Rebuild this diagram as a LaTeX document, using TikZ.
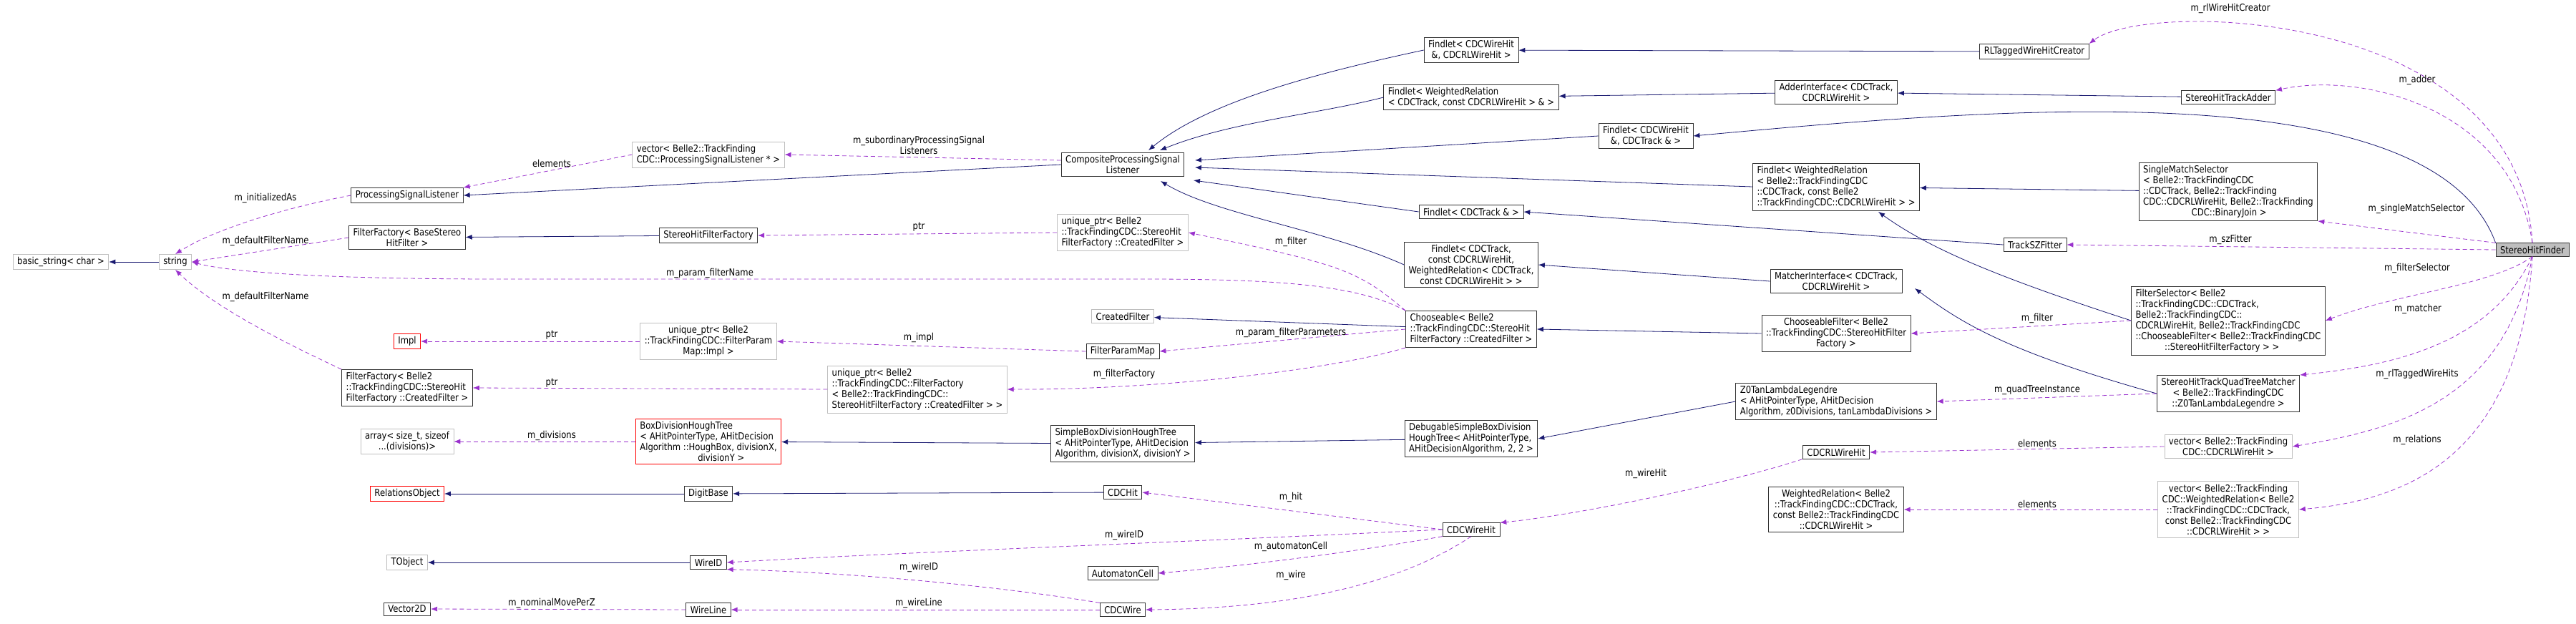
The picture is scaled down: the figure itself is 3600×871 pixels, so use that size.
\documentclass[tikz,border=0pt]{standalone}
\usepackage{fontspec}
\setmainfont{DejaVu Sans}[FakeStretch=0.86]
\usepackage{tikz}
\usetikzlibrary{positioning,arrows.meta}
\definecolor{navy}{HTML}{191970}
\definecolor{member}{HTML}{9A32CD}
\definecolor{extgray}{HTML}{BFBFBF}

\begin{document}
\begin{tikzpicture}[x=1pt, y=-1pt,
        every node/.style={font=\fontsize{13.5}{15}\selectfont, inner xsep=6pt, inner ysep=4pt},
        cls/.style={draw=black!80, thick, fill=white, align=center},
        extcls/.style={draw=extgray, thick, fill=white, align=center},
        redcls/.style={draw=red, thick, fill=white, align=center},
        focus/.style={draw=black!80, thick, fill=black!25, align=center},
        lbl/.style={inner sep=1pt, align=center},
        inh/.style={draw=navy, thick, -{Latex[length=9pt,width=7pt]}},
        use/.style={draw=member, thick, dash pattern=on 6pt off 4pt, -{Latex[length=9pt,width=7pt]}},
]
        \useasboundingbox (0,0) rectangle (3600,871);

        % left column
        \node[extcls] (bstr) at (85,366) {basic\_string< char >};
        \node[extcls] (str) at (245,366) {string};
        \node[cls] (psl) at (569,273) {ProcessingSignalListener};
        \node[cls] (ffbase) at (569,332) {FilterFactory< BaseStereo\\HitFilter >};
        \node[redcls] (impl) at (569,477) {Impl};
        \node[cls, align=left] (ffcreated) at (569,542) {FilterFactory< Belle2\\::TrackFindingCDC::StereoHit\\FilterFactory ::CreatedFilter >};
        \node[extcls] (arr) at (569,617) {array< size\_t, sizeof\\...(divisions)>};
        \node[redcls] (relobj) at (569,690) {RelationsObject};
        \node[extcls] (tobj) at (569,786) {TObject};
        \node[cls] (vecd) at (569,851) {Vector2D};

        % second column
        \node[extcls, align=left] (vecpsl) at (990,216) {vector< Belle2::TrackFinding\\CDC::ProcessingSignalListener * >};
        \node[cls] (shff) at (990,329) {StereoHitFilterFactory};
        \node[extcls] (upimpl) at (990,477) {unique\_ptr< Belle2\\::TrackFindingCDC::FilterParam\\Map::Impl >};
        \node[extcls, align=left] (upff) at (1282,544) {unique\_ptr< Belle2\\::TrackFindingCDC::FilterFactory\\< Belle2::TrackFindingCDC::\\StereoHitFilterFactory ::CreatedFilter > >};
        \node[redcls, align=left] (boxtree) at (990,617) {BoxDivisionHoughTree\\< AHitPointerType, AHitDecision\\Algorithm ::HoughBox, divisionX,\\\hspace*{6em}divisionY >};
        \node[cls] (digit) at (990,690) {DigitBase};
        \node[cls] (wireid) at (990,786) {WireID};
        \node[cls] (wireline) at (990,852) {WireLine};

        % third column
        \node[cls] (cpsl) at (1569,230) {CompositeProcessingSignal\\Listener};
        \node[extcls, align=left] (upcreated) at (1569,325) {unique\_ptr< Belle2\\::TrackFindingCDC::StereoHit\\FilterFactory ::CreatedFilter >};
        \node[extcls] (createdf) at (1569,442) {CreatedFilter};
        \node[cls] (fpmap) at (1569,491) {FilterParamMap};
        \node[cls, align=left] (simplebox) at (1569,620) {SimpleBoxDivisionHoughTree\\< AHitPointerType, AHitDecision\\Algorithm, divisionX, divisionY >};
        \node[cls] (cdchit) at (1569,688) {CDCHit};
        \node[cls] (autocell) at (1569,801) {AutomatonCell};
        \node[cls] (cdcwire) at (1569,852) {CDCWire};

        % fourth column
        \node[cls] (fwrl) at (2056,70) {Findlet< CDCWireHit\\\&, CDCRLWireHit >};
        \node[cls, align=left] (fwrel) at (2056,136) {Findlet< WeightedRelation\\< CDCTrack, const CDCRLWireHit > \& >};
        \node[cls] (fwtrk) at (2300,190) {Findlet< CDCWireHit\\\&, CDCTrack \& >};
        \node[cls] (ftrk) at (2056,296) {Findlet< CDCTrack \& >};
        \node[cls] (ftrkrel) at (2056,370) {Findlet< CDCTrack,\\const CDCRLWireHit,\\WeightedRelation< CDCTrack,\\const CDCRLWireHit > >};
        \node[cls, align=left] (choose) at (2056,460) {Chooseable< Belle2\\::TrackFindingCDC::StereoHit\\FilterFactory ::CreatedFilter >};
        \node[cls, align=left] (debugbox) at (2056,613) {DebugableSimpleBoxDivision\\HoughTree< AHitPointerType,\\AHitDecisionAlgorithm, 2, 2 >};
        \node[cls] (cdcwirehit) at (2056,740) {CDCWireHit};

        % fifth column
        \node[cls] (rlcreator) at (2843,72) {RLTaggedWireHitCreator};
        \node[cls] (adderif) at (2566,129) {AdderInterface< CDCTrack,\\CDCRLWireHit >};
        \node[cls, align=left] (fbelle) at (2566,261) {Findlet< WeightedRelation\\< Belle2::TrackFindingCDC\\::CDCTrack, const Belle2\\::TrackFindingCDC::CDCRLWireHit > >};
        \node[cls] (szfit) at (2844,342) {TrackSZFitter};
        \node[cls] (matcherif) at (2566,393) {MatcherInterface< CDCTrack,\\CDCRLWireHit >};
        \node[cls] (choosef) at (2566,466) {ChooseableFilter< Belle2\\::TrackFindingCDC::StereoHitFilter\\Factory >};
        \node[cls, align=left] (z0leg) at (2566,561) {Z0TanLambdaLegendre\\< AHitPointerType, AHitDecision\\Algorithm, z0Divisions, tanLambdaDivisions >};
        \node[cls] (rlwirehit) at (2566,632) {CDCRLWireHit};
        \node[cls] (wrel) at (2566,712) {WeightedRelation< Belle2\\::TrackFindingCDC::CDCTrack,\\const Belle2::TrackFindingCDC\\::CDCRLWireHit >};

        % sixth column
        \node[cls] (adder) at (3114,136) {StereoHitTrackAdder};
        \node[cls, align=left] (single) at (3114,268) {SingleMatchSelector\\< Belle2::TrackFindingCDC\\::CDCTrack, Belle2::TrackFinding\\CDC::CDCRLWireHit, Belle2::TrackFinding\\\hspace*{5em}CDC::BinaryJoin >};
        \node[cls, align=left] (fselector) at (3114,448) {FilterSelector< Belle2\\::TrackFindingCDC::CDCTrack,\\Belle2::TrackFindingCDC::\\CDCRLWireHit, Belle2::TrackFindingCDC\\::ChooseableFilter< Belle2::TrackFindingCDC\\\hspace*{3em}::StereoHitFilterFactory > >};
        \node[cls] (quadmatcher) at (3114,550) {StereoHitTrackQuadTreeMatcher\\< Belle2::TrackFindingCDC\\::Z0TanLambdaLegendre >};
        \node[extcls] (vecrl) at (3114,624) {vector< Belle2::TrackFinding\\CDC::CDCRLWireHit >};
        \node[extcls] (vecwrel) at (3114,712) {vector< Belle2::TrackFinding\\CDC::WeightedRelation< Belle2\\::TrackFindingCDC::CDCTrack,\\const Belle2::TrackFindingCDC\\::CDCRLWireHit > >};
        \node[focus] (finder) at (3539,349) {StereoHitFinder};

        % inheritance
        \draw[inh] (str) -- (bstr);
        \draw[inh] (cpsl.west) -- (psl.east);
        \draw[inh] (shff) -- (ffbase);
        \draw[inh] (fwrl.west) .. controls (1850,100) and (1690,140) .. (1605,210);
        \draw[inh] (fwrel.west) .. controls (1840,160) and (1720,170) .. (1621,210);
        \draw[inh] (fwtrk.west) -- (1670,224);
        \draw[inh] (fbelle.west) -- (1670,234);
        \draw[inh] (ftrk.west) -- (1668,252);
        \draw[inh] (ftrkrel.west) .. controls (1850,320) and (1700,300) .. (1622,253);
        \draw[inh] (choose) -- (createdf);
        \draw[inh] (simplebox) -- (boxtree);
        \draw[inh] (debugbox) -- (simplebox);
        \draw[inh] (cdchit) -- (digit);
        \draw[inh] (digit) -- (relobj);
        \draw[inh] (wireid) -- (tobj);
        \draw[inh] (rlcreator) -- (fwrl);
        \draw[inh] (adderif) -- (fwrel);
        \draw[inh] (adder) -- (adderif);
        \draw[inh] (szfit.west) -- (ftrk.east);
        \draw[inh] (matcherif.west) -- (ftrkrel.east);
        \draw[inh] (choosef.west) -- (choose.east);
        \draw[inh] (z0leg.west) -- (debugbox.east);
        \draw[inh] (single) -- (fbelle);
        \draw[inh] (fselector.west) .. controls (2800,390) and (2700,350) .. (2625,296);
        \draw[inh] (quadmatcher.west) .. controls (2800,490) and (2740,450) .. (2676,403);
        \draw[inh] (finder.north west) .. controls (3400,100) and (2800,150) .. (fwtrk.east);

        % members
        \draw[use] (psl.west) .. controls (400,290) and (300,320) .. (str.north);
        \draw[use] (ffbase.west) -- (str.east);
        \draw[use] (ffcreated.north west) .. controls (400,480) and (300,430) .. (str.south);
        \draw[use] (choose.north west) .. controls (1900,400) and (1800,390) .. (1600,390) -- (700,390) .. controls (450,390) and (320,380) .. (str.east);
        \draw[use] (vecpsl.west) -- (psl.north east);
        \draw[use] (cpsl.west) ++(0,-6) -- (vecpsl.east);
        \draw[use] (upcreated.west) -- (shff.east);
        \draw[use] (choose.north west) .. controls (1900,380) and (1880,370) .. (upcreated.east);
        \draw[use] (upimpl.west) -- (impl.east);
        \draw[use] (fpmap.west) -- (upimpl.east);
        \draw[use] (choose.west) -- (fpmap.east);
        \draw[use] (upff.west) -- (ffcreated.east);
        \draw[use] (choose.south west) .. controls (1850,520) and (1600,545) .. (upff.east);
        \draw[use] (boxtree.west) -- (arr.east);
        \draw[use] (cdcwirehit.west) -- (cdchit.east);
        \draw[use] (cdcwirehit.west) .. controls (1600,760) and (1300,770) .. (wireid.east);
        \draw[use] (cdcwirehit.south west) .. controls (1900,770) and (1750,790) .. (autocell.east);
        \draw[use] (cdcwirehit.south) .. controls (1980,800) and (1850,850) .. (cdcwire.east);
        \draw[use] (cdcwire.north west) .. controls (1400,820) and (1200,800) .. (wireid.south east);
        \draw[use] (cdcwire.west) -- (wireline.east);
        \draw[use] (wireline.west) -- (vecd.east);
        \draw[use] (rlwirehit.south west) .. controls (2400,680) and (2200,720) .. (cdcwirehit.north east);
        \draw[use] (vecrl.west) -- (rlwirehit.east);
        \draw[use] (vecwrel.west) -- (wrel.east);
        \draw[use] (fselector.west) -- (choosef.east);
        \draw[use] (quadmatcher.west) -- (z0leg.east);
        \draw[use] (finder.north) .. controls (3520,10) and (3000,0) .. (rlcreator.north east);
        \draw[use] (finder.north) .. controls (3510,150) and (3300,100) .. (adder.north east);
        \draw[use] (finder.north west) -- (single.south east);
        \draw[use] (finder.west) -- (szfit.east);
        \draw[use] (finder.south) .. controls (3480,400) and (3350,410) .. (fselector.east);
        \draw[use] (finder.south) .. controls (3480,480) and (3350,510) .. (quadmatcher.north east);
        \draw[use] (finder.south) .. controls (3500,560) and (3350,600) .. (vecrl.east);
        \draw[use] (finder.south) .. controls (3520,650) and (3350,700) .. (vecwrel.east);

        % member labels
        \node[lbl] (l1) at (371,277) {m\_initializedAs};
        \node[lbl] (l2) at (371,337) {m\_defaultFilterName};
        \node[lbl] (l3) at (371,415) {m\_defaultFilterName};
        \node[lbl] (l4) at (771,228) {elements};
        \node[lbl] (l5) at (1284,203) {m\_subordinaryProcessingSignal\\Listeners};
        \node[lbl] (l6) at (1284,317) {ptr};
        \node[lbl] (l7) at (992,382) {m\_param\_filterName};
        \node[lbl] (l8) at (771,468) {ptr};
        \node[lbl] (l9) at (1284,472) {m\_impl};
        \node[lbl] (l10) at (771,535) {ptr};
        \node[lbl] (l11) at (771,609) {m\_divisions};
        \node[lbl] (l12) at (771,843) {m\_nominalMovePerZ};
        \node[lbl] (l13) at (1284,793) {m\_wireID};
        \node[lbl] (l14) at (1284,843) {m\_wireLine};
        \node[lbl] (l15) at (1804,338) {m\_filter};
        \node[lbl] (l16) at (1804,465) {m\_param\_filterParameters};
        \node[lbl] (l17) at (1571,523) {m\_filterFactory};
        \node[lbl] (l18) at (1804,695) {m\_hit};
        \node[lbl] (l19) at (1571,748) {m\_wireID};
        \node[lbl] (l20) at (1804,764) {m\_automatonCell};
        \node[lbl] (l21) at (1804,804) {m\_wire};
        \node[lbl] (l22) at (2300,662) {m\_wireHit};
        \node[lbl] (l23) at (3117,12) {m\_rlWireHitCreator};
        \node[lbl] (l24) at (3378,112) {m\_adder};
        \node[lbl] (l25) at (3377,292) {m\_singleMatchSelector};
        \node[lbl] (l26) at (3117,335) {m\_szFitter};
        \node[lbl] (l27) at (3378,375) {m\_filterSelector};
        \node[lbl] (l28) at (3379,432) {m\_matcher};
        \node[lbl] (l29) at (2847,445) {m\_filter};
        \node[lbl] (l30) at (2847,545) {m\_quadTreeInstance};
        \node[lbl] (l31) at (3378,523) {m\_rlTaggedWireHits};
        \node[lbl] (l32) at (2847,619) {elements};
        \node[lbl] (l33) at (3378,615) {m\_relations};
        \node[lbl] (l34) at (2847,704) {elements};
    \end{tikzpicture}
\end{document}
